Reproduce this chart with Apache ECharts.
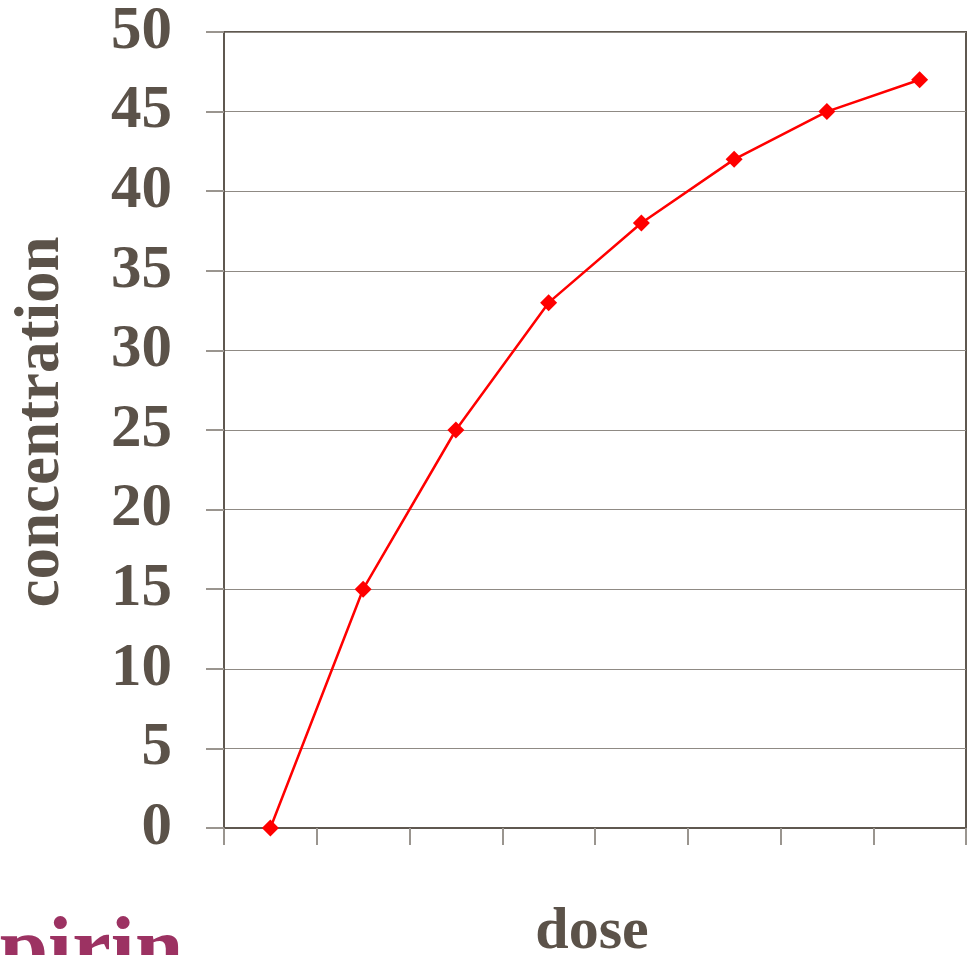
<!DOCTYPE html>
<html>
<head>
<meta charset="utf-8">
<script src="https://cdn.jsdelivr.net/npm/echarts@6/dist/echarts.min.js"></script>
<style>
  html, body { margin: 0; padding: 0; background: #fff; }
  #chart { width: 968px; height: 955px; }
</style>
</head>
<body>
<div id="chart"></div>
<script>
// Dose steps along the x axis (unlabelled categories)
const doses = ['1', '2', '3', '4', '5', '6', '7', '8'];
// Measured concentration at each dose
const concentration = [0, 15, 25, 33, 38, 42, 45, 47];
// Value axis range and step
const yMin = 0, yMax = 50, yStep = 5;

const textColor = '#5b5249';
const axisColor = '#5f5850';
const serif = '"Liberation Serif", "Times New Roman", serif';

const chart = echarts.init(document.getElementById('chart'));
chart.setOption({
  animation: false,
  backgroundColor: '#fff',
  grid: {
    left: 224, right: 2, top: 32, bottom: 127,
    outerBoundsMode: 'none',
    containLabel: false,
    show: true, borderColor: axisColor, borderWidth: 2
  },
  xAxis: {
    type: 'category',
    data: doses,
    boundaryGap: true,
    name: 'dose',
    nameLocation: 'middle',
    nameGap: 104,
    nameTextStyle: { color: textColor, fontFamily: serif, fontWeight: 'bold', fontSize: 60, verticalAlign: 'middle', padding: [0, 6, 0, 0] },
    axisLine: { lineStyle: { color: axisColor, width: 2 } },
    axisTick: { show: true, length: 17, lineStyle: { color: '#9a958f', width: 2 } },
    axisLabel: { show: false },
    splitLine: { show: false }
  },
  yAxis: {
    type: 'value',
    min: yMin, max: yMax, interval: yStep,
    name: 'concentration',
    nameLocation: 'middle',
    nameRotate: 90,
    nameGap: 182,
    nameTextStyle: { color: textColor, fontFamily: serif, fontWeight: 'bold', fontSize: 63, verticalAlign: 'middle', padding: [0, 0, 0, 16] },
    axisLine: { show: true, lineStyle: { color: axisColor, width: 2 } },
    axisTick: { show: true, length: 18, lineStyle: { color: '#9a958f', width: 2 } },
    axisLabel: { color: textColor, fontFamily: serif, fontWeight: 'bold', fontSize: 61, margin: 52 },
    splitLine: { show: true, lineStyle: { color: '#8f8a84', width: 1 } }
  },
  series: [{
    type: 'line',
    data: concentration,
    symbol: 'diamond',
    symbolSize: 17,
    itemStyle: { color: '#ff0000' },
    lineStyle: { color: '#ff0000', width: 2.5 },
    z: 5
  }],
  graphic: [{
    type: 'text',
    left: -97,
    top: 910,
    style: {
      text: 'Aspirin',
      fill: '#9c3262',
      font: 'bold 87px "Liberation Serif", "Times New Roman", serif'
    }
  }]
});
</script>
</body>
</html>
